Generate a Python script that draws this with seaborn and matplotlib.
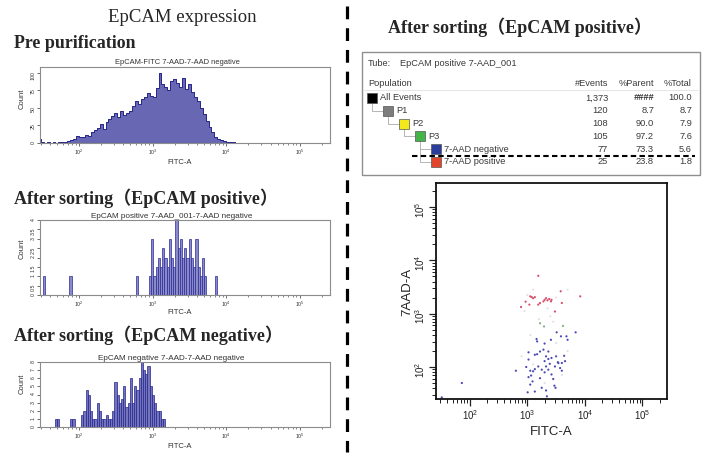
import numpy as np
import pandas as pd
import matplotlib
matplotlib.use('Agg')
import matplotlib.pyplot as plt
from matplotlib.patches import Rectangle
from matplotlib.ticker import LogLocator, NullFormatter, FixedLocator
import seaborn as sns

# ---------------- data ----------------
# pre purification histogram (log10 FITC-A bin centres, counts)
pre_log_fitc = [1.46, 1.50, 1.54, 1.58, 1.62, 1.66, 1.70, 1.74, 1.78, 1.82,
                1.86, 1.90, 1.94, 1.98, 2.02, 2.06, 2.10, 2.14, 2.18, 2.22,
                2.26, 2.30, 2.34, 2.38, 2.42, 2.46, 2.50, 2.54, 2.58, 2.62,
                2.66, 2.70, 2.74, 2.78, 2.82, 2.86, 2.90, 2.94, 2.98, 3.02,
                3.06, 3.10, 3.14, 3.18, 3.22, 3.26, 3.30, 3.34, 3.38, 3.42,
                3.46, 3.50, 3.54, 3.58, 3.62, 3.66, 3.70, 3.74, 3.78, 3.82,
                3.86, 3.90, 3.94, 3.98, 4.02, 4.06, 4.10, 4.14]
pre_counts = [6, 1, 0, 1, 0, 1, 0, 1, 2, 1,
              3, 4, 6, 10, 8, 9, 12, 10, 15, 18,
              22, 27, 20, 30, 34, 38, 42, 37, 46, 40,
              43, 46, 52, 60, 56, 62, 66, 71, 67, 65,
              78, 100, 84, 80, 75, 88, 91, 85, 80, 93,
              77, 84, 72, 66, 60, 50, 41, 31, 23, 15,
              9, 6, 4, 3, 2, 2, 1, 0]

# after sorting, EpCAM positive
pos_log_fitc = [1.525, 1.885, 2.785, 2.965, 2.995, 3.025, 3.055, 3.085, 3.115, 3.145,
                3.175, 3.205, 3.235, 3.265, 3.295, 3.325, 3.355, 3.385, 3.415, 3.445,
                3.475, 3.505, 3.535, 3.565, 3.595, 3.625, 3.655, 3.685, 3.715, 3.865]
pos_counts = [1, 1, 1, 1, 3, 1, 1.5, 2, 1.5, 2.5,
              2, 1.5, 3, 2, 1.5, 4, 2.5, 3, 2, 2.5,
              2, 3, 2, 1.5, 3, 1.5, 1, 2, 1, 1]

# after sorting, EpCAM negative
neg_log_fitc = [1.445, 1.685, 1.715, 1.895, 1.925, 2.045, 2.075, 2.105, 2.135, 2.165,
                2.195, 2.225, 2.255, 2.285, 2.315, 2.345, 2.375, 2.405, 2.435, 2.465,
                2.495, 2.525, 2.555, 2.585, 2.615, 2.645, 2.675, 2.705, 2.735, 2.765,
                2.795, 2.825, 2.855, 2.885, 2.915, 2.945, 2.975, 3.005, 3.035, 3.065,
                3.095, 3.125, 3.155]
neg_counts = [2, 1, 1, 1, 1, 1.5, 2, 4.5, 4, 2,
              1, 1, 3, 2, 1, 1, 1.5, 1, 1, 2,
              5.5, 4, 3, 3.5, 5, 2.5, 3, 6, 3, 5,
              4.5, 6, 8, 7, 6.5, 7.5, 5, 4, 3, 2,
              2, 1, 1]

# dot plot, log10 FITC-A / log10 7AAD-A
red_x = [3.19, 2.89, 2.97, 3.05, 3.075, 3.10, 3.035, 3.19, 3.22, 3.30, 3.325,
         3.35, 3.38, 3.41, 3.42, 3.48, 3.58, 3.60, 3.92, 3.28, 3.13]
red_y = [3.71, 3.125, 3.225, 3.325, 3.31, 3.29, 3.17, 3.17, 3.20, 3.26, 3.29,
         3.25, 3.275, 3.23, 3.26, 3.04, 3.42, 3.20, 3.325, 3.23, 3.31]
blue_x = [3.51, 3.585, 3.68, 3.70, 3.84, 3.41, 3.30, 3.16, 3.02, 3.13, 3.17,
          3.22, 3.28, 3.325, 3.365, 3.42, 3.50, 3.53, 3.60, 3.64, 2.80, 2.98,
          3.02, 3.05, 3.065, 3.09, 3.02, 3.13, 3.19, 3.25, 3.30, 3.325, 3.365,
          3.39, 3.42, 3.45, 3.48, 3.54, 3.57, 3.60, 3.05, 3.005, 3.13, 3.25,
          3.325, 3.34, 3.47, 3.49, 3.655, 1.86, 1.51, 3.17, 3.365, 3.30, 3.10,
          3.22]
blue_y = [2.65, 2.575, 2.575, 2.51, 2.65, 2.51, 2.44, 2.525, 2.275, 2.23, 2.24,
          2.29, 2.325, 2.20, 2.15, 2.17, 2.20, 2.09, 2.075, 2.21, 1.93, 2.00,
          2.14, 1.93, 1.84, 1.73, 1.81, 1.96, 2.01, 1.95, 1.90, 2.01, 1.95,
          2.06, 1.86, 1.775, 2.01, 2.075, 1.98, 1.93, 1.67, 1.525, 1.54, 1.61,
          1.56, 1.45, 1.65, 1.61, 2.11, 1.70, 1.43, 2.48, 2.29, 2.11, 1.92,
          1.79]
green_x = [3.22, 3.29, 3.62]
green_y = [2.82, 2.76, 2.77]
faint_x = [3.00, 3.10, 2.95, 3.35, 3.50, 3.70, 3.20, 3.40, 3.05, 3.50, 3.70,
           3.10, 3.30, 3.60, 2.90, 3.45]
faint_y = [3.35, 3.45, 3.05, 3.10, 3.30, 3.45, 2.90, 2.95, 2.60, 2.45, 2.30,
           2.05, 1.70, 1.85, 2.20, 2.85]

# population hierarchy table
populations = ['All Events', 'P1', 'P2', 'P3', '7-AAD negative', '7-AAD positive']
pop_level = [0, 1, 2, 3, 4, 4]
n_events = ['1,373', '120', '108', '105', '77', '25']
pct_parent = ['####', '8.7', '90.0', '97.2', '73.3', '23.8']
pct_total = ['100.0', '8.7', '7.9', '7.6', '5.6', '1.8']
pop_colors = ['#000000', '#7d7d7d', '#f3e81a', '#44b348', '#2b3d9c', '#e2452b']

# ---------------- figure ----------------
sns.set_style('ticks')
plt.rcParams['font.family'] = ['Liberation Sans', 'DejaVu Sans']
W, H = 708, 458
fig = plt.figure(figsize=(W / 100, H / 100), dpi=100)

# overlay in pixel coordinates for free text, table and separators
ov = fig.add_axes([0, 0, 1, 1], zorder=5)
ov.set_xlim(0, W)
ov.set_ylim(H, 0)
ov.axis('off')
ov.patch.set_visible(False)

serif = ['Liberation Serif', 'Noto Sans CJK SC']


def px_axes(left, top, right, bottom):
    return fig.add_axes([left / W, 1 - bottom / H, (right - left) / W, (bottom - top) / H])


def style_hist(ax, yticks, ylabels, ymax):
    ax.set_xlim(10 ** 1.47, 10 ** 5.41)
    ax.set_ylim(0, ymax)
    ax.xaxis.set_major_locator(LogLocator(base=10, numticks=10))
    ax.xaxis.set_minor_locator(LogLocator(base=10, subs=np.arange(2, 10), numticks=40))
    ax.xaxis.set_minor_formatter(NullFormatter())
    ax.yaxis.set_major_locator(FixedLocator(yticks))
    ax.set_yticklabels(ylabels)
    ax.tick_params(which='major', direction='out', length=2.2, width=0.6,
                   labelsize=3.8, pad=1, color='#555555', labelcolor='#333333')
    ax.tick_params(which='minor', direction='out', length=1.3, width=0.5, color='#555555')
    ax.tick_params(axis='y', labelrotation=90)
    for s in ax.spines.values():
        s.set_color('#8c8c8c')
        s.set_linewidth(0.8)
    ax.set_xlabel('')
    ax.set_ylabel('')


# --- 1. pre purification ---
h1 = px_axes(40, 67, 330, 143)
sns.histplot(x=np.power(10, pre_log_fitc), weights=pre_counts, binwidth=0.04,
             binrange=(1.44, 4.16), log_scale=True, element='step', fill=True,
             color='#6767b3', edgecolor='#25258a', linewidth=0.7, alpha=1, ax=h1)
style_hist(h1, [0, 25, 50, 75, 100], ['0', '25', '50', '75', '100'], 108)

# --- 2. after sorting, EpCAM positive ---
h2 = px_axes(40, 220, 330, 295)
sns.histplot(x=np.power(10, pos_log_fitc), weights=pos_counts, binwidth=0.03,
             binrange=(1.45, 3.91), log_scale=True, element='bars', fill=True,
             color='#8a8ac8', edgecolor='#2a2a98', linewidth=0.5, alpha=1, ax=h2)
ticks2 = [0, 0.5, 1, 1.5, 2, 2.5, 3, 3.5, 4]
style_hist(h2, ticks2, ['0', '0.5', '1', '1.5', '2', '2.5', '3', '3.5', '4'], 4)

# --- 3. after sorting, EpCAM negative ---
h3 = px_axes(40, 362, 330, 427)
sns.histplot(x=np.power(10, neg_log_fitc), weights=neg_counts, binwidth=0.03,
             binrange=(1.43, 3.17), log_scale=True, element='bars', fill=True,
             color='#7474bb', edgecolor='#25258f', linewidth=0.5, alpha=1, ax=h3)
style_hist(h3, list(range(9)), [str(i) for i in range(9)], 8)

# histogram titles and labels
hist_titles = ['EpCAM-FITC 7-AAD-7-AAD negative',
               'EpCAM positive 7-AAD_001-7-AAD negative',
               'EpCAM negative 7-AAD-7-AAD negative']
for (tx, ty, fs), t in zip([(177, 63, 5.4), (172, 216, 5.9), (171, 358, 5.9)], hist_titles):
    ov.text(tx, ty, t, fontsize=fs, ha='center', va='center', color='#333333')
for cy in [99, 249, 384]:
    ov.text(22, cy, 'Count', fontsize=5.5, rotation=90, ha='center', va='center', color='#333333')
for fy in [163, 313, 447]:
    ov.text(180, fy, 'FITC-A', fontsize=5.5, ha='center', va='center', color='#333333')

# section headings
ov.text(182, 18, 'EpCAM expression', family=serif, fontsize=13.5, ha='center', va='center')
ov.text(14, 44, 'Pre purification', family=serif, fontsize=12.9, weight='bold', va='center')
ov.text(14, 198, 'After sorting（EpCAM positive）', family=serif, fontsize=13,
        weight='bold', va='center')
ov.text(14, 335, 'After sorting（EpCAM negative）', family=serif, fontsize=13,
        weight='bold', va='center')
ov.text(388, 27, 'After sorting（EpCAM positive）', family=serif, fontsize=13,
        weight='bold', va='center')

# vertical dashed separator
ov.plot([347, 347], [6, 452], color='black', lw=2.3, dashes=(4, 2.8), solid_capstyle='butt')

# --- population table ---
ov.add_patch(Rectangle((362, 52), 338, 123, fill=False, edgecolor='#8f8f8f', lw=1.0))
tc = '#3a3a3a'
fs_t = 6.7
ov.text(368, 64, 'Tube:', fontsize=fs_t, va='center', color=tc)
ov.text(400, 64, 'EpCAM positive 7-AAD_001', fontsize=fs_t, va='center', color=tc)
ov.text(368, 83, 'Population', fontsize=fs_t, va='center', color=tc)
for hx, ht in zip([608, 654, 692], ['#Events', '%Parent', '%Total']):
    ov.text(hx, 83, ht, fontsize=fs_t, va='center', ha='right', color=tc)
ov.plot([364, 698], [90, 90], color='#e2e2e2', lw=0.6)

row_y = [98 + 12.8 * i for i in range(len(populations))]
sq = 10
for i, (name, lev) in enumerate(zip(populations, pop_level)):
    x0 = 367 + 16 * lev
    y = row_y[i]
    if lev > 0:
        parent = max(j for j in range(i) if pop_level[j] == lev - 1)
        px = 367 + 16 * (lev - 1) + sq / 2
        ov.plot([px, px, x0], [row_y[parent] + sq / 2, y, y], color='#b5b5b5', lw=0.7)
    ov.add_patch(Rectangle((x0, y - sq / 2), sq, sq, facecolor=pop_colors[i],
                           edgecolor='#555555', lw=0.5, zorder=3))
    ov.text(x0 + 13, y, name, fontsize=fs_t, va='center', color=tc)
    ov.text(608, y, n_events[i], fontsize=fs_t, va='center', ha='right', color=tc)
    if pct_parent[i] == '####':
        ov.text(654, y, pct_parent[i], fontsize=fs_t, va='center', ha='right',
                color=tc, weight='bold', style='italic')
    else:
        ov.text(654, y, pct_parent[i], fontsize=fs_t, va='center', ha='right', color=tc)
    ov.text(692, y, pct_total[i], fontsize=fs_t, va='center', ha='right', color=tc)

ov.plot([412, 695], [156, 156], color='black', lw=1.5, dashes=(2.6, 1.6))

# --- dot plot ---
sc = px_axes(436, 183, 667, 399)
dots = pd.DataFrame({
    'fitc': np.power(10, faint_x + green_x + blue_x + red_x),
    'aad': np.power(10, faint_y + green_y + blue_y + red_y),
    'gate': (['other'] * len(faint_x) + ['P3'] * len(green_x)
             + ['7-AAD negative'] * len(blue_x) + ['7-AAD positive'] * len(red_x)),
})
gate_palette = {'other': '#e3e3e3', 'P3': '#7fb07f',
                '7-AAD negative': '#4a4ab4', '7-AAD positive': '#d6506a'}
sns.scatterplot(data=dots, x='fitc', y='aad', hue='gate', palette=gate_palette,
                s=2.5, linewidth=0, legend=False, ax=sc)
sc.set_xscale('log')
sc.set_yscale('log')
sc.set_xlim(10 ** 1.41, 10 ** 5.43)
sc.set_ylim(10 ** 1.4, 10 ** 5.45)
for axis in (sc.xaxis, sc.yaxis):
    axis.set_major_locator(LogLocator(base=10, numticks=10))
    axis.set_minor_locator(LogLocator(base=10, subs=np.arange(2, 10), numticks=40))
    axis.set_minor_formatter(NullFormatter())
sc.tick_params(which='major', direction='out', length=5, width=0.9, labelsize=7,
               pad=1.5, color='#222222', labelcolor='#222222')
sc.tick_params(which='minor', direction='out', length=2.8, width=0.7, color='#222222')
sc.tick_params(axis='y', labelrotation=90)
for s in sc.spines.values():
    s.set_color('#111111')
    s.set_linewidth(1.3)
sc.set_xlabel('')
sc.set_ylabel('')
ov.text(551, 432, 'FITC-A', fontsize=9.5, ha='center', va='center', color='#222222')
ov.text(407, 292, '7AAD-A', fontsize=9.5, rotation=90, ha='center', va='center', color='#222222')

fig.savefig('out.png', dpi=100)
